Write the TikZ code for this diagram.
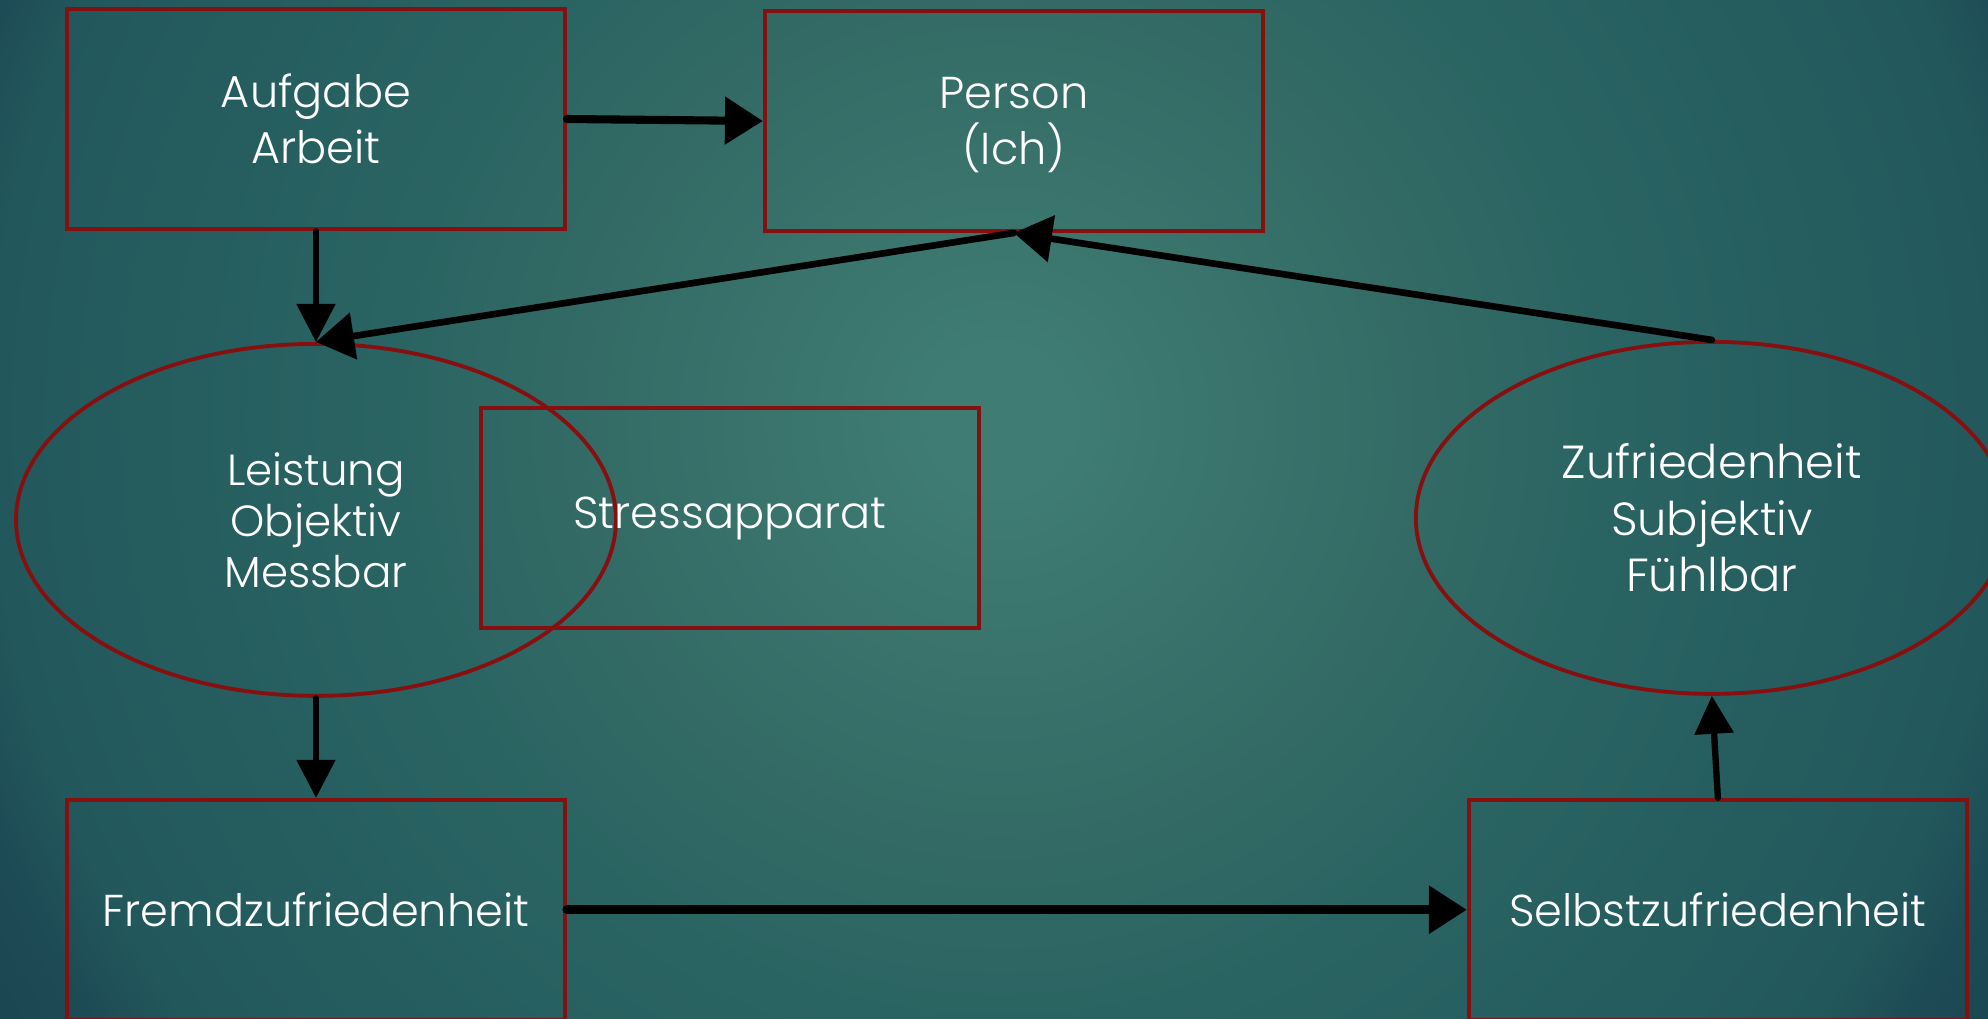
\documentclass[tikz,border=0pt]{standalone}
\usepackage{fontspec}
\setmainfont{Poppins Light}
\usetikzlibrary{arrows.meta,positioning,shapes.geometric}
\definecolor{boxred}{HTML}{861010}
\definecolor{bga}{HTML}{3F7C73}
\definecolor{bgb}{HTML}{336A65}
\definecolor{bgc}{HTML}{2A6462}
\definecolor{bgd}{HTML}{22585C}
\definecolor{bge}{HTML}{1D4A55}
\definecolor{bgf}{HTML}{1A4552}
\pgfdeclareradialshading{slidebg}{\pgfpoint{0bp}{0bp}}{color(0bp)=(bga); color(20bp)=(bga); color(120bp)=(bgb); color(171bp)=(bgc); color(285bp)=(bgd); color(309bp)=(bge); color(340bp)=(bgf)}
\tikzset{
  box/.style={draw=boxred, line width=1.1pt, text=white, align=center, inner sep=0pt,
    minimum width=4.98cm, minimum height=2.2cm, font=\fontsize{12.7}{16}\selectfont},
  oval/.style={ellipse, draw=boxred, line width=1.1pt, text=white, align=center, inner sep=0pt,
    minimum width=6cm, minimum height=3.52cm},
  edge/.style={-{Triangle[length=3.8mm,width=4.6mm]}, line width=2.3pt, line cap=round},
  thinedge/.style={-{Triangle[length=3.8mm,width=3.8mm]}, line width=1.5pt, line cap=round}
}

\begin{document}
\begin{tikzpicture}[node distance=1.1cm and 1.96cm]
% background
\useasboundingbox (0,0) rectangle (19.88,-10.19);
\begin{scope}
  \clip (0,0) rectangle (19.88,-10.19);
  \node[inner sep=0pt, outer sep=0pt] (glow) at (10,-4.2) {\pgfuseshading{slidebg}};
\end{scope}

\node[box] (aufgabe) at (3.16,-1.19) {Aufgabe\\Arbeit};
\node[box, right=of aufgabe, yshift=-0.02cm] (person) {Person\\\smash{(Ich)}};
\node[oval, below=1.11cm of aufgabe, font=\fontsize{12.4}{14.5}\selectfont] (leistung) {Leistung\\Objektiv\\Messbar};
\node[box] (stress) at (7.30,-5.18) {Stressapparat};
\node[box, below=1.0cm of leistung] (fremd) {Fremdzufriedenheit};
\node[box, right=9.0cm of fremd] (selbst) {Selbstzufriedenheit};
\node[oval, above=1.02cm of selbst, xshift=-0.06cm, minimum width=5.92cm, font=\fontsize{13.2}{16}\selectfont] (zufr) {Zufriedenheit\\Subjektiv\\Fühlbar};

\draw[edge] (aufgabe.east) -- (person.west);
\draw[thinedge] (aufgabe.south) -- (leistung.north);
\draw[edge, line width=1.9pt] (person.south) -- (leistung.north);
\draw[edge, line width=1.9pt] (zufr.north) -- (person.south);
\draw[thinedge] (leistung.south) -- (fremd.north);
\draw[edge, line width=2.6pt] (fremd.east) -- (selbst.west);
\draw[thinedge, line width=1.8pt] (selbst.north) -- (zufr.south);
\end{tikzpicture}
\end{document}
